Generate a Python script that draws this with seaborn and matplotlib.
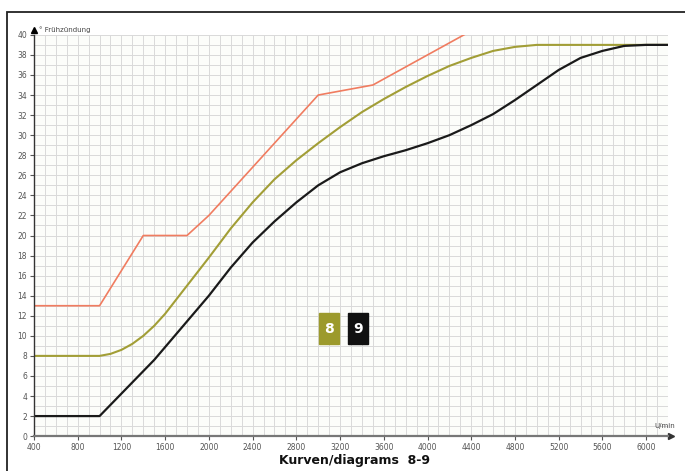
import numpy as np
import pandas as pd
import matplotlib.pyplot as plt
import seaborn as sns
from matplotlib.patches import Rectangle
from matplotlib.ticker import MultipleLocator

# Data (rpm vs. advance in degrees)
red_rpm = [400, 1000, 1400, 1800, 2000, 3000, 3500, 4500]
red_deg = [13, 13, 20, 20, 22, 34, 35, 41]

olive_rpm = [400, 1000, 1100, 1200, 1300, 1400, 1500, 1600, 1700, 1800, 1900, 2000,
             2200, 2400, 2600, 2800, 3000, 3200, 3400, 3600, 3800, 4000, 4200,
             4400, 4600, 4800, 5000, 6200]
olive_deg = [8, 8, 8.2, 8.6, 9.2, 10, 11, 12.2, 13.6, 15, 16.4, 17.8,
             20.7, 23.3, 25.6, 27.5, 29.2, 30.8, 32.3, 33.6, 34.8, 35.9, 36.9,
             37.7, 38.4, 38.8, 39, 39]

black_rpm = [400, 1000, 1500, 2000, 2200, 2400, 2600, 2800, 3000, 3200, 3400, 3600,
             3800, 4000, 4200, 4400, 4600, 4800, 5000, 5200, 5400, 5600, 5800,
             6000, 6200]
black_deg = [2, 2, 7.6, 14, 16.8, 19.3, 21.4, 23.3, 25, 26.3, 27.2, 27.9,
             28.5, 29.2, 30, 31, 32.1, 33.5, 35, 36.5, 37.7, 38.4, 38.9,
             39, 39]

badge_labels = ["8", "9"]
badge_colors = ["#9c9a2c", "#111111"]

sns.set_theme(style="white")
plt.rcParams['font.family'] = ['DejaVu Sans']

fig = plt.figure(figsize=(6.85, 4.71), dpi=100)
ax = fig.add_axes([0.0496, 0.074, 0.9256, 0.852])
ax.set_facecolor("#fcfdfa")

red = pd.DataFrame({"rpm": red_rpm, "deg": red_deg})
olive = pd.DataFrame({"rpm": olive_rpm, "deg": olive_deg})
black = pd.DataFrame({"rpm": black_rpm, "deg": black_deg})

sns.lineplot(data=red, x="rpm", y="deg", color="#f07c60", lw=1.2, ax=ax, sort=False)
sns.lineplot(data=olive, x="rpm", y="deg", color="#a29e36", lw=1.5, ax=ax, sort=False)
sns.lineplot(data=black, x="rpm", y="deg", color="#1a1a1a", lw=1.6, ax=ax, sort=False)

ax.set_xlim(400, 6200)
ax.set_ylim(0, 40)
ax.xaxis.set_major_locator(MultipleLocator(400))
ax.xaxis.set_minor_locator(MultipleLocator(100))
ax.yaxis.set_major_locator(MultipleLocator(2))
ax.yaxis.set_minor_locator(MultipleLocator(1))
ax.grid(which="both", color="#d9d9d9", lw=0.7)
ax.set_axisbelow(True)

for s in ["top", "right"]:
    ax.spines[s].set_visible(False)
ax.spines["left"].set_color("#333333")
ax.spines["bottom"].set_color("#777777")
ax.spines["bottom"].set_linewidth(1.6)
ax.spines["left"].set_linewidth(1.0)
ax.tick_params(which="major", length=3, width=0.8, color="#555555",
               labelsize=5.5, labelcolor="#555555", pad=2, left=True, bottom=True)
ax.tick_params(which="minor", length=0)
ax.set_xlabel("")
ax.set_ylabel("")

# axis arrows and labels
ax.plot(0, 1.012, marker="^", ms=4, color="black", transform=ax.transAxes, clip_on=False)
ax.text(0.008, 1.012, "° Frühzündung", transform=ax.transAxes, fontsize=5,
        color="#444444", va="center", ha="left")
ax.plot(1.004, 0, marker=">", ms=4, color="#333333", transform=ax.transAxes, clip_on=False)
ax.text(0.995, 0.018, "U/min", transform=ax.transAxes, fontsize=5,
        color="#444444", va="bottom", ha="center")

# curve badges
badge_x = [3010, 3276]
for lab, col, bx in zip(badge_labels, badge_colors, badge_x):
    ax.add_patch(Rectangle((bx, 9.14), 180, 3.1, color=col, zorder=5))
    ax.text(bx + 90, 10.7, lab, color="white", fontsize=10, fontweight="bold",
            ha="center", va="center", zorder=6)

fig.text(0.518, 0.022, "Kurven/diagrams  8-9", fontsize=9, fontweight="heavy",
         ha="center", va="center", color="#111111")

# outer frame
fig.add_artist(Rectangle((7 / 685, -0.1), 1.2, 1.1 - 12 / 471, transform=fig.transFigure,
                         fill=False, lw=1.3, edgecolor="#222222"))

plt.savefig("out.png", dpi=100)
